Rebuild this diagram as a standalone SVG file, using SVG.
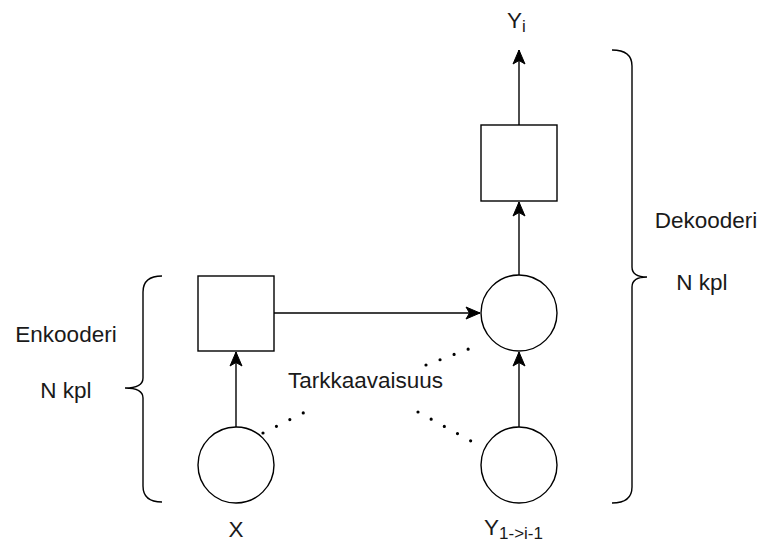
<svg xmlns="http://www.w3.org/2000/svg" width="763" height="542" viewBox="0 0 763 542">
<style>
.shape{fill:#fff;stroke:#000;stroke-width:1.4}
.edge{fill:none;stroke:#000;stroke-width:1.4}
.dots{fill:none;stroke:#000;stroke-width:3.2;stroke-linecap:round;stroke-dasharray:0 15}
.brace{fill:none;stroke:#000;stroke-width:1.4}
text{font-family:"Liberation Sans",Arial,sans-serif;font-size:22.5px;fill:#1a1a1a}
.mid{text-anchor:middle}
.sub{font-size:17px}
</style>
<defs>
<marker id="arr" markerUnits="userSpaceOnUse" markerWidth="16" markerHeight="14" viewBox="0 0 16 14" refX="15" refY="7" orient="auto">
<path d="M1,1 L15,7 L1,13 L4.5,7 z" fill="#000" stroke="#000" stroke-width="1"/>
</marker>
</defs>
<rect width="763" height="542" fill="#fff"/>
<g id="connectors">
<line class="edge" x1="236" y1="427" x2="236" y2="352" marker-end="url(#arr)"/>
<line class="edge" x1="274" y1="313" x2="480" y2="313" marker-end="url(#arr)"/>
<line class="edge" x1="519" y1="427" x2="519" y2="352" marker-end="url(#arr)"/>
<line class="edge" x1="519" y1="275" x2="519" y2="202" marker-end="url(#arr)"/>
<line class="edge" x1="519" y1="125" x2="519" y2="50" marker-end="url(#arr)"/>
<line class="dots" x1="263" y1="433" x2="305" y2="412"/>
<line class="dots" x1="418" y1="412" x2="471" y2="441"/>
<line class="dots" x1="426" y1="365" x2="482" y2="344"/>
</g>
<g id="enc-box"><rect class="shape" x="198" y="276" width="76" height="75"/></g>
<g id="enc-input"><circle class="shape" cx="236" cy="465" r="38"/></g>
<g id="dec-circle"><circle class="shape" cx="519" cy="313" r="38"/></g>
<g id="dec-box"><rect class="shape" x="481" y="125" width="76" height="76"/></g>
<g id="dec-input"><circle class="shape" cx="519" cy="465" r="38"/></g>
<g id="brace-left"><path class="brace" d="M162,276 Q143,276 143,292 L143,378 Q143,388 125,388 Q143,388 143,398 L143,486 Q143,502 162,502"/></g>
<g id="brace-right"><path class="brace" d="M612,50 Q632,50 632,66 L632,267 Q632,277 647,277 Q632,277 632,287 L632,487 Q632,503 612,503"/></g>
<g id="labels">
<text x="507" y="28">Y<tspan class="sub" dy="4">i</tspan></text>
<text class="mid" x="66" y="342">Enkooderi</text>
<text class="mid" x="66" y="398">N kpl</text>
<text class="mid" x="706" y="228">Dekooderi</text>
<text class="mid" x="702" y="290">N kpl</text>
<text x="288" y="388">Tarkkaavaisuus</text>
<text class="mid" x="236" y="537">X</text>
<text x="484" y="535">Y<tspan class="sub" dy="4">1-&gt;i-1</tspan></text>
</g>
</svg>
